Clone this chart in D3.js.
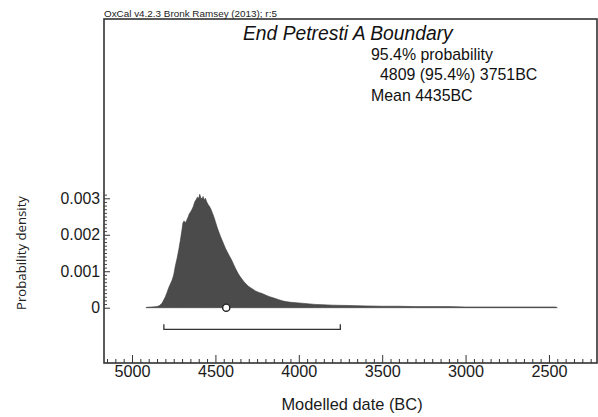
<!DOCTYPE html>
<html><head><meta charset="utf-8">
<script src="https://cdn.jsdelivr.net/npm/d3@7"></script>
<style>body{margin:0;background:#fff}svg{display:block}</style>
</head><body><svg id="c" width="598" height="417"></svg>
<script>
// Data (years BC, probability density)
const years = [4915,4880,4850,4835,4820,4800,4790,4780,4770,4760,4750,4740,4730,4720,4710,4700,4695,4688,4680,4672,4664,4656,4648,4640,4632,4624,4616,4608,4600,4594,4588,4580,4574,4568,4560,4552,4544,4536,4528,4520,4510,4500,4490,4480,4470,4460,4450,4440,4430,4420,4410,4400,4390,4380,4370,4360,4350,4340,4330,4320,4310,4300,4280,4260,4240,4220,4200,4180,4160,4140,4120,4100,4080,4050,4000,3950,3900,3850,3800,3700,3600,3500,3400,3300,3200,3100,3000,2800,2600,2460,2450];
const density = [0.00001,0.00002,0.00003,0.00006,0.00012,0.00030,0.00042,0.00055,0.00065,0.00075,0.00090,0.00115,0.00135,0.00158,0.00185,0.00215,0.00232,0.00238,0.00232,0.00240,0.00248,0.00258,0.00263,0.00270,0.00278,0.00290,0.00296,0.00303,0.00300,0.00311,0.00302,0.00298,0.00305,0.00296,0.00300,0.00290,0.00283,0.00278,0.00271,0.00262,0.00250,0.00236,0.00221,0.00208,0.00196,0.00185,0.00174,0.00163,0.00154,0.00145,0.00137,0.00128,0.00118,0.00108,0.00099,0.00091,0.00084,0.00078,0.00072,0.00067,0.00062,0.00058,0.00052,0.00046,0.00042,0.00039,0.00035,0.00031,0.00028,0.00025,0.00022,0.00019,0.00017,0.00015,0.00013,0.00011,0.00009,0.00008,0.00007,0.00006,0.00005,0.00004,0.00004,0.00003,0.00003,0.00003,0.00002,0.00002,0.00002,0.00002,0];
const xTickLabels = [5000,4500,4000,3500,3000,2500];
const yTickLabels = [0,0.001,0.002,0.003];
const range95 = [4809, 3751];
const meanBC = 4435;
const titleText = "End Petresti A Boundary";
const headerText = "OxCal v4.2.3 Bronk Ramsey (2013); r:5";
const infoLines = ["95.4% probability", "4809 (95.4%) 3751BC", "Mean 4435BC"];

const svg = d3.select("#c");
const L=104, R=597, T=19, B=363;
const x = d3.scaleLinear().domain([5168, 2212]).range([L, R]);
const y = d3.scaleLinear().domain([-0.001516, 0.007916]).range([B, T]);
const font = "'Liberation Sans', Arial, sans-serif";
const data = years.map((yr,i)=>({yr, d:density[i]}));

// distribution
svg.append("path").datum(data)
  .attr("d", d3.area().x(p=>x(p.yr)).y0(y(0)).y1(p=>y(p.d)))
  .attr("fill","#4b4b4b").attr("stroke","#3a3a3a").attr("stroke-width",0.6);

// mean circle
svg.append("circle").attr("cx", x(meanBC)).attr("cy", y(0)).attr("r",3.6)
  .attr("fill","#fff").attr("stroke","#222").attr("stroke-width",1.4);

// range bracket
const by = 329.3;
svg.append("path")
  .attr("d", `M${x(range95[0])},${by-5}V${by}H${x(range95[1])}V${by-5}`)
  .attr("fill","none").attr("stroke","#333").attr("stroke-width",1.3);

// frame
svg.append("rect").attr("x",L).attr("y",T).attr("width",R-L).attr("height",B-T)
  .attr("fill","none").attr("stroke","#333").attr("stroke-width",1.6);

// x axis minor ticks
const xMinor = d3.range(5150, 2200, -50).filter(v=>v%500!==0);
const gxm = svg.append("g").attr("transform",`translate(0,${B})`)
  .call(d3.axisBottom(x).tickValues(xMinor).tickSize(-4).tickSizeOuter(0).tickFormat(""));
gxm.select(".domain").remove();
gxm.selectAll("line").attr("stroke","#333");
const gx = svg.append("g").attr("transform",`translate(0,${B})`)
  .call(d3.axisBottom(x).tickValues(xTickLabels).tickSize(-8).tickSizeOuter(0).tickPadding(2).tickFormat(d3.format("d")));
gx.select(".domain").remove();
gx.selectAll("line").attr("stroke","#333");
gx.selectAll("text").attr("font-family",font).attr("font-size",16.2).attr("fill","#1a1a1a");

// y axis minor ticks
const yMinor = d3.range(0, 32).map(i=>i/10000).filter(v=>Math.round(v*10000)%10!==0);
const gym = svg.append("g").attr("transform",`translate(${L},0)`)
  .call(d3.axisLeft(y).tickValues(yMinor).tickSize(-3).tickSizeOuter(0).tickFormat(""));
gym.select(".domain").remove();
gym.selectAll("line").attr("stroke","#444");
const gy = svg.append("g").attr("transform",`translate(${L},0)`)
  .call(d3.axisLeft(y).tickValues(yTickLabels).tickSize(-6).tickSizeOuter(0).tickPadding(4)
    .tickFormat(d=> d===0 ? "0" : d3.format(".3f")(d)));
gy.select(".domain").remove();
gy.selectAll("line").attr("stroke","#333");
gy.selectAll("text").attr("font-family",font).attr("font-size",15.8).attr("fill","#1a1a1a");

// texts
svg.append("text").attr("x",104).attr("y",16.5).text(headerText)
  .attr("font-family",font).attr("font-size",9.9).attr("fill","#222");
svg.append("text").attr("x",243).attr("y",40).text(titleText)
  .attr("font-family",font).attr("font-size",19.3).attr("font-style","italic").attr("fill","#111");
svg.append("text").attr("x",371).attr("y",60).text(infoLines[0])
  .attr("font-family",font).attr("font-size",15.9).attr("fill","#111");
svg.append("text").attr("x",380).attr("y",80).text(infoLines[1])
  .attr("font-family",font).attr("font-size",15.9).attr("fill","#111");
svg.append("text").attr("x",371).attr("y",100.5).text(infoLines[2])
  .attr("font-family",font).attr("font-size",15.9).attr("fill","#111");
svg.append("text").attr("x",352).attr("y",410).attr("text-anchor","middle").text("Modelled date (BC)")
  .attr("font-family",font).attr("font-size",16.4).attr("fill","#1a1a1a");
svg.append("text").attr("transform","translate(26,253) rotate(-90)").attr("text-anchor","middle")
  .text("Probability density").attr("font-family","'Open Sans', sans-serif").attr("font-size",13.2).attr("fill","#222");
</script></body></html>
